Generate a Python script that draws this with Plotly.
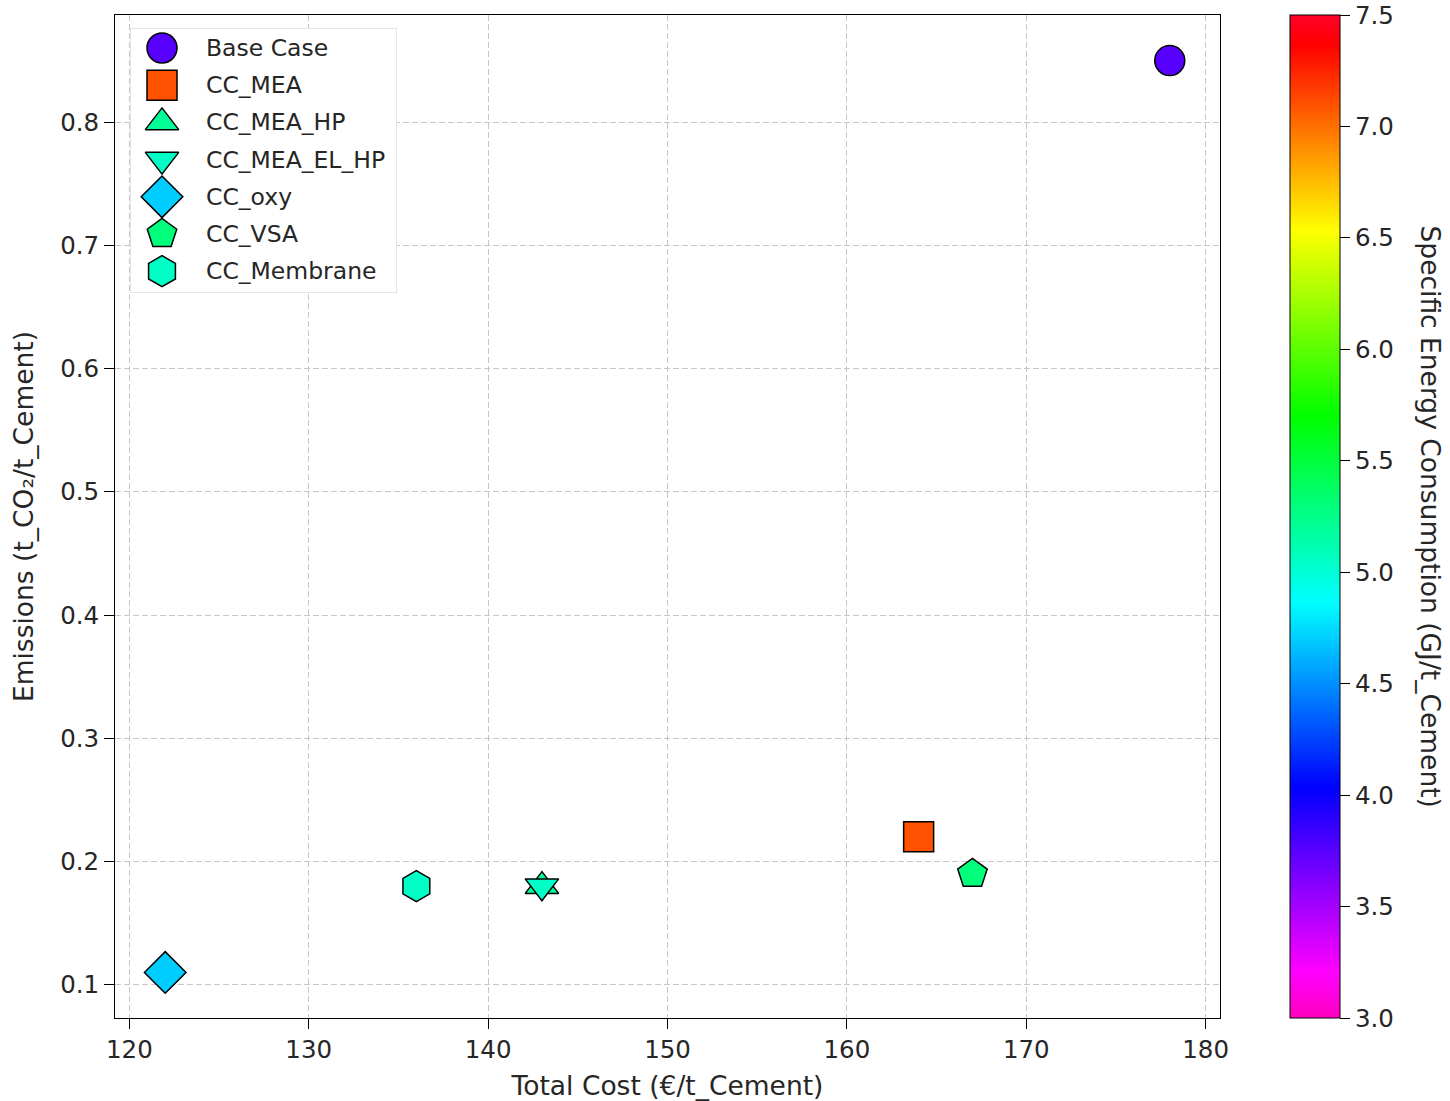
import plotly.graph_objects as go

# ---- data ----
scenarios = ["Base Case", "CC_MEA", "CC_MEA_HP", "CC_MEA_EL_HP", "CC_oxy", "CC_VSA", "CC_Membrane"]
total_cost = [178, 164, 143, 143, 122, 167, 136]          # €/t_Cement
emissions = [0.85, 0.22, 0.18, 0.18, 0.11, 0.19, 0.18]     # t_CO2/t_Cement
energy = [3.75, 7.1, 5.2, 5.05, 4.7, 5.3, 5.05]            # GJ/t_Cement
symbols = ["circle", "square", "triangle-up", "triangle-down", "diamond", "pentagon", "hexagon"]
sizes = [30, 30, 29, 29, 32, 31, 31]

x_ticks = [120, 130, 140, 150, 160, 170, 180]
y_ticks = [0.1, 0.2, 0.3, 0.4, 0.5, 0.6, 0.7, 0.8]
cbar_ticks = [3.0, 3.5, 4.0, 4.5, 5.0, 5.5, 6.0, 6.5, 7.0, 7.5]
CMIN, CMAX = 3.0, 7.5

# gist_rainbow reversed
colorscale = [
    [0.000, "rgb(255,0,191)"],
    [0.046, "rgb(255,0,255)"],
    [0.230, "rgb(0,0,255)"],
    [0.414, "rgb(0,255,255)"],
    [0.600, "rgb(0,255,0)"],
    [0.785, "rgb(255,255,0)"],
    [0.970, "rgb(255,0,0)"],
    [1.000, "rgb(255,0,41)"],
]

FONT = "DejaVu Sans"
FS_TICK = 24.5
FS_TITLE = 26.5
FS_LEG = 23.5
TXT = "#262626"

# the page body margin is removed by a post script, so the figure fills the window
W, H = 1450, 1101
ml, mr, mt, mb = 115, 230, 15, 83
pw = W - ml - mr   # 1105
ph = H - mt - mb   # 1003
SX0, SY0 = ml, mt  # screen position of plot-area origin


def px_x(sx):
    return (sx - SX0) / pw


def px_y(sy):
    return 1 - (sy - SY0) / ph


fig = go.Figure()
for i, name in enumerate(scenarios):
    fig.add_trace(go.Scatter(
        x=[total_cost[i]], y=[emissions[i]], mode="markers", name=name,
        showlegend=False,
        marker=dict(symbol=symbols[i], size=sizes[i], color=[energy[i]],
                    coloraxis="coloraxis", line=dict(color="black", width=1.5)),
    ))

# ---- custom legend (own small subplot so markers keep full size & colour) ----
LEG_W, LEG_H = 267, 265
ROW0, ROW_STEP = 20, 37.2
MARK_X, TEXT_X = 32, 74
rows = [ROW0 + ROW_STEP * i for i in range(len(scenarios))]
for i, name in enumerate(scenarios):
    fig.add_trace(go.Scatter(
        x=[MARK_X], y=[rows[i]], mode="markers", xaxis="x2", yaxis="y2",
        showlegend=False, hoverinfo="skip",
        marker=dict(symbol=symbols[i], size=sizes[i], color=[energy[i]],
                    coloraxis="coloraxis", line=dict(color="black", width=1.5)),
    ))

annotations = [dict(
    text=name, xref="x2", yref="y2", x=TEXT_X, y=rows[i],
    xanchor="left", yanchor="middle", showarrow=False,
    font=dict(family=FONT, size=FS_LEG, color=TXT),
) for i, name in enumerate(scenarios)]

annotations.append(dict(
    text="Specific Energy Consumption (GJ/t_Cement)", textangle=90,
    xref="paper", yref="paper", x=px_x(1430), y=0.5,
    xanchor="center", yanchor="middle", showarrow=False,
    font=dict(family=FONT, size=FS_TITLE, color=TXT),
))


def padded(vals, frac=0.05):
    lo, hi = min(vals), max(vals)
    p = (hi - lo) * frac
    return [lo - p, hi + p]


axis_common = dict(
    showline=True, linecolor="black", linewidth=1, mirror=True,
    ticks="outside", ticklen=10, tickwidth=1, tickcolor="black",
    showgrid=True, gridcolor="rgba(180,180,180,0.75)", gridwidth=1, griddash="6px,3px",
    zeroline=False, tickfont=dict(family=FONT, size=FS_TICK, color=TXT),
)

fig.update_layout(
    width=W, height=H,
    margin=dict(l=ml, r=mr, t=mt, b=mb, autoexpand=False),
    plot_bgcolor="white", paper_bgcolor="white",
    font=dict(family=FONT, size=FS_TICK, color=TXT),
    showlegend=False,
    xaxis=dict(range=padded(total_cost), tickvals=x_ticks,
               title=dict(text="Total Cost (€/t_Cement)", standoff=14,
                          font=dict(family=FONT, size=FS_TITLE, color=TXT)),
               automargin=False, **axis_common),
    yaxis=dict(range=padded(emissions), tickvals=y_ticks, tickformat=".1f",
               title=dict(text="Emissions (t_CO₂/t_Cement)", standoff=18,
                          font=dict(family=FONT, size=FS_TITLE, color=TXT)),
               automargin=False, **axis_common),
    xaxis2=dict(domain=[px_x(130), px_x(130 + LEG_W)], range=[0, LEG_W],
                visible=False, anchor="y2", fixedrange=True),
    yaxis2=dict(domain=[px_y(28 + LEG_H), px_y(28)], range=[LEG_H, 0],
                visible=False, anchor="x2", fixedrange=True),
    coloraxis=dict(
        colorscale=colorscale, cmin=CMIN, cmax=CMAX,
        colorbar=dict(
            x=px_x(1290), xanchor="left", xpad=0, ypad=0,
            y=0.5, yanchor="middle", len=ph, lenmode="pixels",
            thickness=50, thicknessmode="pixels",
            outlinewidth=1, outlinecolor="black",
            ticks="outside", ticklen=10, tickcolor="black",
            tickvals=cbar_ticks, ticktext=[f"{v:.1f}" for v in cbar_ticks],
            ticklabeloverflow="allow",
            tickfont=dict(family=FONT, size=FS_TICK, color=TXT),
        ),
    ),
    shapes=[dict(
        type="rect", xref="x2", yref="y2", x0=0, x1=LEG_W, y0=0, y1=LEG_H,
        line=dict(color="#cccccc", width=1), fillcolor="rgba(255,255,255,0.8)",
        layer="below",
    )],
    annotations=annotations,
)

fig.write_html(
    "out.html",
    config={"displayModeBar": False},
    post_script="document.body.style.margin='0';document.body.style.padding='0';",
)
